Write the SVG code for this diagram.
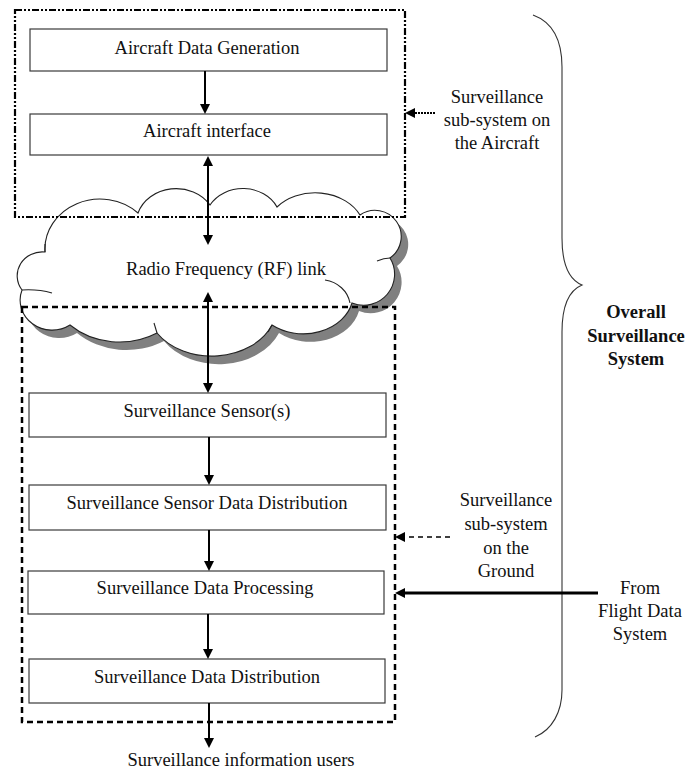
<svg xmlns="http://www.w3.org/2000/svg" width="686" height="776" viewBox="0 0 686 776">
  <style>
    .box { fill: #ffffff; stroke: #3a3a3a; stroke-width: 1.2; }
    .t { font-family: "Liberation Serif", "Times New Roman", serif; font-size: 18.5px; fill: #111111; text-anchor: middle; }
    .b { font-weight: bold; }
    .conn { stroke: #000000; stroke-width: 2; fill: none; }
    .cloud { fill: #ffffff; stroke: #222222; stroke-width: 1.1; }
    .curl { fill: none; stroke: #222222; stroke-width: 1.1; }
  </style>
  <defs>
    <marker id="ah" viewBox="0 0 10 10" refX="4" refY="5" markerWidth="10" markerHeight="10" markerUnits="userSpaceOnUse" orient="auto-start-reverse">
      <path d="M0,0 L10,5 L0,10 z" fill="#000000"/>
    </marker>
    <path id="cloudShape" d="M45,252 A55 50 0 0 1 138,213 A40 35 0 0 1 210,205 A38 33 0 0 1 277,207 A50 40 0 0 1 360,215 A26 26 0 0 1 390,258 A31 31 0 0 1 352,303 A50 40 0 0 1 272,325 A65 50 0 0 1 157,333 A71 60 0 0 1 70,325 A32 30 0 0 1 22,290 A25 24 0 0 1 45,252 Z"/>
  </defs>

  <g id="rf-link">
    <use href="#cloudShape" transform="translate(7,8)" fill="#808080" stroke="none"/>
    <use href="#cloudShape" class="cloud"/>
    <path class="curl" d="M22,290 Q38,289 52,293"/>
    <path class="curl" d="M45,252 L45,244"/>
    <path class="curl" d="M390,258 Q384,258 377,261"/>
    <path class="curl" d="M325,280 A30 28 0 0 1 350,303"/>
    <path class="curl" d="M272,325 L268,332"/>
    <path class="curl" d="M157,333 L154,323"/>
    <text class="t" x="226" y="275">Radio Frequency (RF) link</text>
  </g>

  <g id="aircraft-subsystem">
    <rect x="15" y="10" width="390" height="207" fill="none" stroke="#000000" stroke-width="2.2" stroke-dasharray="7 2 2 2 2 2"/>
  </g>

  <g id="ground-subsystem">
    <rect x="22" y="307" width="373" height="415" fill="none" stroke="#000000" stroke-width="2.5" stroke-dasharray="6 4"/>
  </g>

  <g id="aircraft-data-generation">
    <rect class="box" x="30" y="29" width="357" height="42"/>
    <text class="t" x="207" y="54">Aircraft Data Generation</text>
  </g>
  <g id="aircraft-interface">
    <rect class="box" x="30" y="114" width="357" height="41"/>
    <text class="t" x="207" y="137">Aircraft interface</text>
  </g>
  <g id="surveillance-sensors">
    <rect class="box" x="29" y="393" width="357" height="44"/>
    <text class="t" x="207" y="417">Surveillance Sensor(s)</text>
  </g>
  <g id="sensor-data-distribution">
    <rect class="box" x="29" y="485" width="357" height="45"/>
    <text class="t" x="207" y="509">Surveillance Sensor Data Distribution</text>
  </g>
  <g id="data-processing">
    <rect class="box" x="28" y="571" width="356" height="43"/>
    <text class="t" x="205" y="594">Surveillance Data Processing</text>
  </g>
  <g id="data-distribution">
    <rect class="box" x="29" y="659" width="356" height="44"/>
    <text class="t" x="207" y="683">Surveillance Data Distribution</text>
  </g>
  <g id="information-users">
    <text class="t" x="241" y="766">Surveillance information users</text>
  </g>

  <g id="label-aircraft">
    <text class="t" x="497" y="103">Surveillance</text>
    <text class="t" x="497" y="126">sub-system on</text>
    <text class="t" x="497" y="149">the Aircraft</text>
  </g>
  <g id="label-ground">
    <text class="t" x="506" y="506">Surveillance</text>
    <text class="t" x="506" y="530">sub-system</text>
    <text class="t" x="506" y="554">on the</text>
    <text class="t" x="506" y="577">Ground</text>
  </g>
  <g id="label-flight-data">
    <text class="t" x="640" y="594">From</text>
    <text class="t" x="640" y="617">Flight Data</text>
    <text class="t" x="640" y="640">System</text>
  </g>
  <g id="label-overall">
    <text class="t b" x="636" y="318">Overall</text>
    <text class="t b" x="636" y="342">Surveillance</text>
    <text class="t b" x="636" y="365">System</text>
  </g>

  <g id="brace">
    <path d="M533,15 C552,22 562,40 562,67 L562,238 C562,265 570,280 582,285 C570,290 562,305 562,332 L562,690 C562,712 552,730 535,737" fill="none" stroke="#333333" stroke-width="1.1"/>
  </g>

  <g id="connectors">
    <path class="conn" d="M205,71 L205,108" marker-end="url(#ah)"/>
    <path class="conn" d="M208,162 L208,239" marker-start="url(#ah)" marker-end="url(#ah)"/>
    <path class="conn" d="M208,298 L208,387" marker-start="url(#ah)" marker-end="url(#ah)"/>
    <path class="conn" d="M209,437 L209,479" marker-end="url(#ah)"/>
    <path class="conn" d="M209,530 L209,565" marker-end="url(#ah)"/>
    <path class="conn" d="M208,614 L208,653" marker-end="url(#ah)"/>
    <path class="conn" d="M209,703 L209,742" marker-end="url(#ah)"/>
    <path d="M435,113 L411,113" stroke="#000000" stroke-width="2" stroke-dasharray="2 1" fill="none" marker-end="url(#ah)"/>
    <path d="M450,537 L401,537" stroke="#000000" stroke-width="1.6" stroke-dasharray="5 4" fill="none" marker-end="url(#ah)"/>
    <path d="M598,593 L401,593" stroke="#000000" stroke-width="3" fill="none" marker-end="url(#ah)"/>
  </g>
</svg>
